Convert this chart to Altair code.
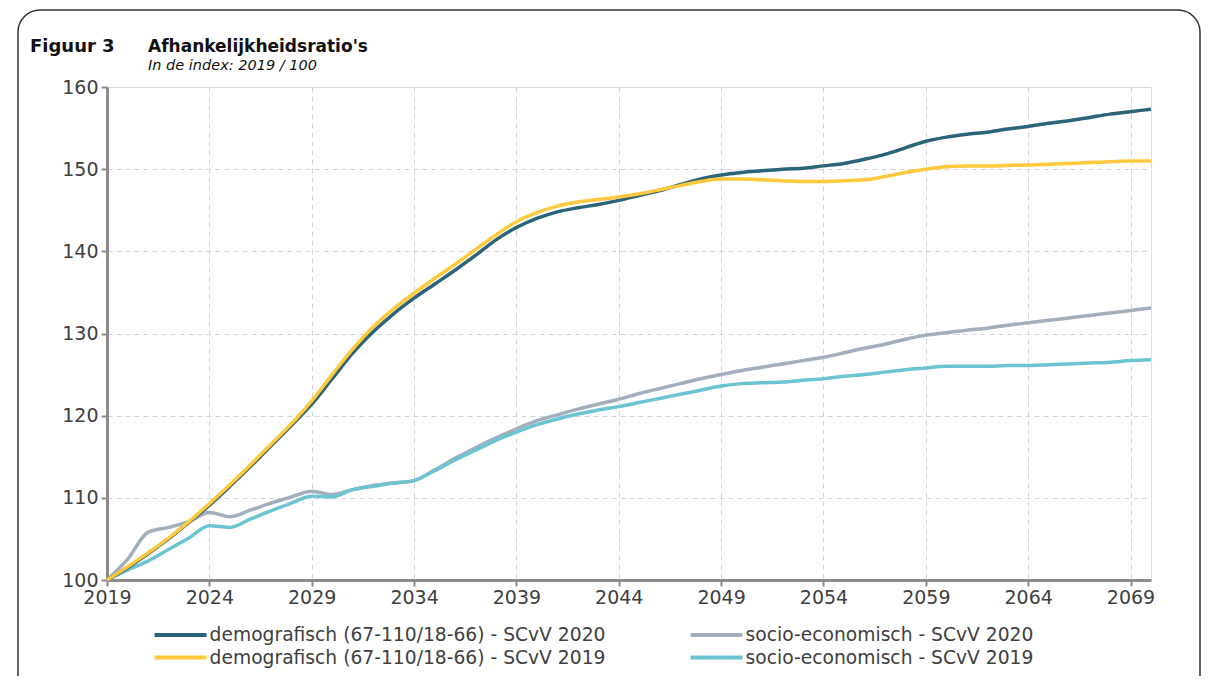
import altair as alt
import pandas as pd

years = list(range(2019, 2071))

demo_2020 = [100.0, 101.5, 103.2, 105.0, 107.0, 109.1, 111.4, 113.8, 116.3, 118.8,
             121.4, 124.5, 127.6, 130.2, 132.4, 134.3, 136.0, 137.7, 139.5, 141.4,
             142.9, 144.0, 144.8, 145.3, 145.7, 146.2, 146.8, 147.4, 148.1, 148.8,
             149.3, 149.6, 149.8, 150.0, 150.1, 150.4, 150.7, 151.2, 151.8, 152.6,
             153.4, 153.9, 154.25, 154.5, 154.9, 155.2, 155.6, 155.9, 156.3, 156.7,
             157.0, 157.3]

demo_2019 = [100.0, 101.6, 103.3, 105.1, 107.1, 109.3, 111.6, 114.0, 116.5, 119.0,
             121.8, 125.0, 128.1, 130.8, 133.0, 134.9, 136.7, 138.4, 140.2, 142.0,
             143.6, 144.7, 145.5, 146.0, 146.3, 146.6, 147.0, 147.5, 148.0, 148.5,
             148.8, 148.8, 148.7, 148.6, 148.5, 148.5, 148.6, 148.7, 149.1, 149.6,
             150.0, 150.3, 150.4, 150.4, 150.45, 150.5, 150.6, 150.7, 150.8, 150.9,
             151.0, 151.0]

socio_2020 = [100.0, 102.5, 105.8, 106.4, 107.1, 108.2, 107.7, 108.5, 109.35, 110.1,
              110.8, 110.4, 111.0, 111.5, 111.8, 112.1, 113.4, 114.8, 116.1, 117.3,
              118.4, 119.4, 120.1, 120.8, 121.4, 122.0, 122.7, 123.3, 123.9, 124.5,
              125.0, 125.5, 125.9, 126.3, 126.7, 127.1, 127.65, 128.2, 128.7, 129.3,
              129.8, 130.1, 130.4, 130.65, 131.0, 131.3, 131.6, 131.9, 132.2, 132.5,
              132.8, 133.1]

socio_2019 = [100.0, 101.2, 102.3, 103.7, 105.1, 106.6, 106.4, 107.4, 108.4, 109.35,
              110.2, 110.1, 111.0, 111.4, 111.8, 112.1, 113.3, 114.6, 115.8, 117.0,
              118.0, 118.9, 119.6, 120.2, 120.7, 121.1, 121.6, 122.1, 122.6, 123.1,
              123.6, 123.9, 124.0, 124.1, 124.3, 124.5, 124.8, 125.0, 125.3, 125.6,
              125.8, 126.0, 126.0, 126.0, 126.1, 126.1, 126.2, 126.3, 126.4, 126.5,
              126.7, 126.8]

# legend order (filled column by column)
series_names = [
    "demografisch (67-110/18-66) - SCvV 2020",
    "demografisch (67-110/18-66) - SCvV 2019",
    "socio-economisch - SCvV 2020",
    "socio-economisch - SCvV 2019",
]
series_colors = ["#2B6478", "#FFC83D", "#A3AEBC", "#6CC3D1"]

x_ticks = [2019, 2024, 2029, 2034, 2039, 2044, 2049, 2054, 2059, 2064, 2069]
y_ticks = [100, 110, 120, 130, 140, 150, 160]

# draw order: grey, cyan, dark, yellow
rows = []
for name, vals in [(series_names[2], socio_2020), (series_names[3], socio_2019),
                   (series_names[0], demo_2020), (series_names[1], demo_2019)]:
    for y, v in zip(years, vals):
        rows.append({"jaar": y, "waarde": v, "reeks": name})
df = pd.DataFrame(rows)

FONT = "DejaVu Sans"
AXIS_GREY = "#8C8C8C"
TEXT = "#404040"

lines = alt.Chart(df).mark_line(strokeWidth=3.5, interpolate="monotone").encode(
    x=alt.X("jaar:Q",
            scale=alt.Scale(domain=[2019, 2070], nice=False, zero=False),
            axis=alt.Axis(values=x_ticks, format="d", title=None,
                          labelFontSize=19, labelColor=TEXT, labelFont=FONT,
                          domainColor=AXIS_GREY, domainWidth=3,
                          tickColor=AXIS_GREY, tickWidth=2, tickSize=6,
                          labelPadding=2, labelFlush=False,
                          grid=True, gridColor="#D4D4D4", gridDash=[5, 4], gridWidth=1)),
    y=alt.Y("waarde:Q",
            scale=alt.Scale(domain=[100, 160], nice=False, zero=False),
            axis=alt.Axis(values=y_ticks, title=None,
                          labelFontSize=19, labelColor=TEXT, labelFont=FONT,
                          domainColor=AXIS_GREY, domainWidth=3,
                          tickColor=AXIS_GREY, tickWidth=2, tickSize=6,
                          labelPadding=3, labelFlush=False,
                          grid=True, gridColor="#D4D4D4", gridDash=[5, 4], gridWidth=1)),
    color=alt.Color("reeks:N",
                    scale=alt.Scale(domain=series_names, range=series_colors),
                    legend=alt.Legend(title=None, orient="none", legendX=61, legendY=535,
                                      columns=2, columnPadding=76, rowPadding=0,
                                      symbolType="M-2.5,0L2.5,0", symbolStrokeWidth=4,
                                      symbolSize=433, labelFontSize=18.7,
                                      labelFont=FONT, labelColor=TEXT, labelOffset=16.6,
                                      labelLimit=600)),
)

frame = alt.Chart(pd.DataFrame({"a": [0]})).mark_rect(
    fill=None, stroke="#333333", strokeWidth=1.5, cornerRadius=22
).encode(x=alt.value(-89), x2=alt.value(1093), y=alt.value(-77), y2=alt.value(640))

t1 = alt.Chart(pd.DataFrame({"t": ["Figuur 3"]})).mark_text(
    align="left", baseline="alphabetic", fontSize=18, fontWeight="bold",
    font=FONT, color="#111111"
).encode(text="t:N", x=alt.value(-77), y=alt.value(-35))
t2 = alt.Chart(pd.DataFrame({"t": ["Afhankelijkheidsratio's"]})).mark_text(
    align="left", baseline="alphabetic", fontSize=17, fontWeight="bold",
    font=FONT, color="#111111"
).encode(text="t:N", x=alt.value(41), y=alt.value(-35))
t3 = alt.Chart(pd.DataFrame({"t": ["In de index: 2019 / 100"]})).mark_text(
    align="left", baseline="alphabetic", fontSize=14.5, fontStyle="italic",
    font=FONT, color="#111111"
).encode(text="t:N", x=alt.value(41), y=alt.value(-17))

chart = alt.layer(frame, lines, t1, t2, t3).properties(
    width=1044, height=493,
    padding={"left": 99, "top": 79, "right": 50, "bottom": 96},
    autosize=alt.AutoSizeParams(type="none"),
).configure_view(
    stroke=AXIS_GREY, strokeWidth=3
).configure(background="white")

chart.save("out.html", embed_options={"renderer": "svg", "actions": False})
